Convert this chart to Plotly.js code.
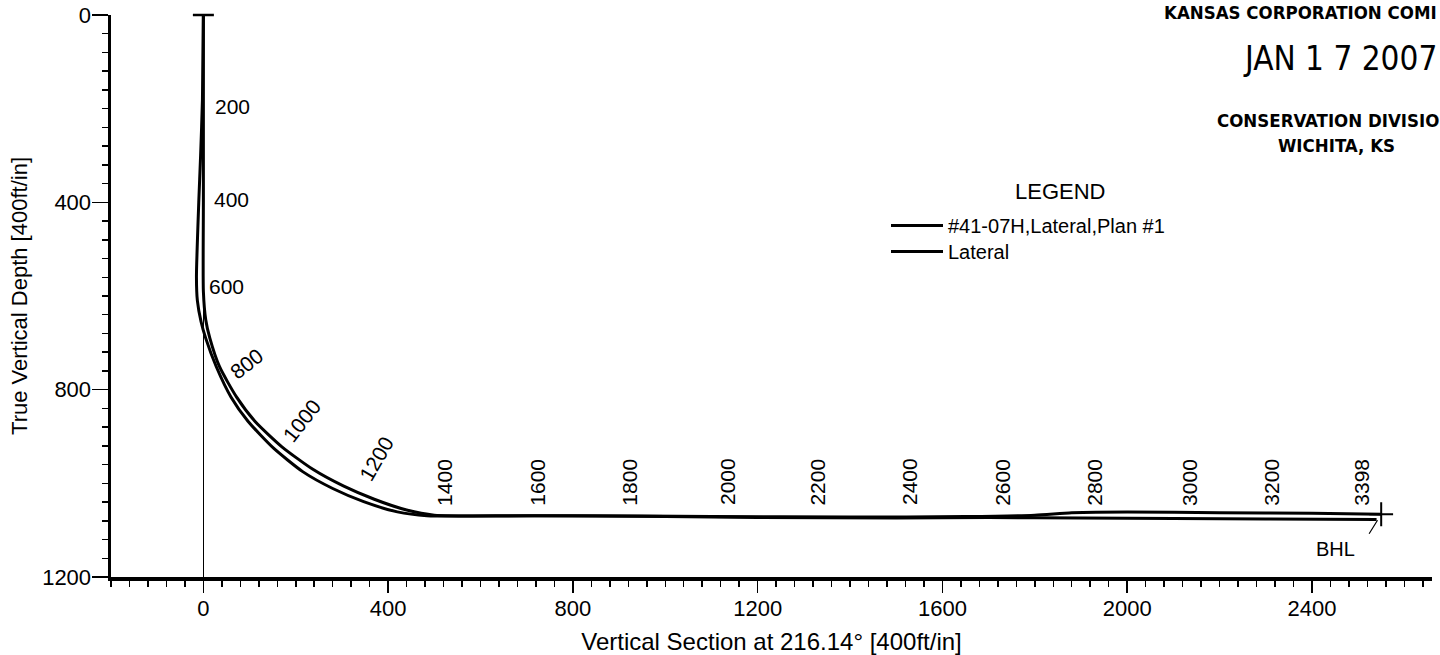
<!DOCTYPE html>
<html>
<head>
<meta charset="utf-8">
<script src="https://cdn.plot.ly/plotly-3.0.1.min.js"></script>
<style>html,body{margin:0;padding:0;background:#fff;}#chart{width:1440px;height:655px;}</style>
</head>
<body>
<div id="chart"></div>
<script>
// ---- data (VS = vertical section ft, TVD = true vertical depth ft)
const planName = '#41-07H,Lateral,Plan #1';
const planVS  = [0, 0, 0, 0, 5, 14, 35, 72, 112, 170, 237, 304, 370, 440, 500, 800, 1100, 1400, 1650, 1800, 1880, 2000, 2200, 2400, 2550];
const planTVD = [0, 200, 400, 590, 650, 690, 751, 816, 868, 922, 970, 1006, 1034, 1057, 1068, 1069, 1071, 1072, 1071, 1068, 1063, 1061, 1063, 1064, 1066];

const lateralName = 'Lateral';
const lateralVS  = [0, -2, -6, -10, -15, -13, -5, 5, 28, 60, 97, 152, 215, 280, 347, 420, 484, 700, 1000, 1200, 1500, 1700, 1900, 2100, 2300, 2540];
const lateralTVD = [0, 180, 300, 400, 560, 610, 655, 690, 751, 816, 868, 925, 975, 1011, 1039, 1061, 1069, 1069, 1071, 1073, 1074, 1073, 1074, 1075, 1076, 1077];

// measured-depth labels along the well path
const mdText  = ['200','400','600','800','1000','1200','1400','1600','1800','2000','2200','2400','2600','2800','3000','3200','3398'];
const mdVS    = [64, 61, 51, 94, 213, 375, 523, 724, 923, 1136, 1330, 1530, 1731, 1930, 2136, 2313, 2508];
const mdTVD   = [196, 395, 580, 744, 865, 947, 997, 997, 997, 997, 997, 997, 997, 997, 997, 997, 997];
const mdAngle = [0, 0, 0, -38, -52, -60, -90, -90, -90, -90, -90, -90, -90, -90, -90, -90, -90];

// axis tick settings
const xTickStep = 400, yTickStep = 400, minorStep = 40;
const xTitle = 'Vertical Section at 216.14\u00B0 [400ft/in]';
const yTitle = 'True Vertical Depth [400ft/in]';

// ---- chart
const F = 'Liberation Sans, Arial, Helvetica, sans-serif';
const NARROW = '"Liberation Sans Narrow", "Arial Narrow", "DejaVu Sans Condensed", "Liberation Sans", Arial, sans-serif';

const traces = [
  {type:'scatter', mode:'lines', x:planVS, y:planTVD, name:planName,
   line:{color:'#000', width:3, shape:'spline', smoothing:0.6}, legend:'legend'},
  {type:'scatter', mode:'lines', x:lateralVS, y:lateralTVD, name:lateralName,
   line:{color:'#000', width:3, shape:'spline', smoothing:0.6}, legend:'legend2'},
  {type:'scatter', mode:'markers', x:[planVS[0]], y:[planTVD[0]], showlegend:false, cliponaxis:false,
   marker:{symbol:'line-ew', size:15, color:'#000', line:{width:2.5, color:'#000'}}, hoverinfo:'skip'},
  {type:'scatter', mode:'markers', x:[planVS[planVS.length-1]], y:[planTVD[planTVD.length-1]], showlegend:false, cliponaxis:false,
   marker:{symbol:'cross-thin', size:17, color:'#000', line:{width:2, color:'#000'}}, hoverinfo:'skip'}
];

// pixel -> paper helpers for the stamp and legend (plot area 111..1432 x 15..577)
const L = 111, R = 8, T = 15, B = 78, W = 1440, H = 655;
const pw = W - L - R, ph = H - T - B;
const px = v => (v - L) / pw;
const py = v => 1 - (v - T) / ph;

const annotations = mdText.map((t, i) => ({
  x: mdVS[i], y: mdTVD[i], xref:'x', yref:'y', text:t, showarrow:false,
  textangle: mdAngle[i], xanchor:'center', yanchor:'middle',
  font:{family:F, size:21, color:'#000'}
}));

const endX = planVS[planVS.length-1], endY = planTVD[planTVD.length-1];
annotations.push({x:endX, y:endY, xref:'x', yref:'y', text:'', showarrow:true, arrowhead:0,
  arrowwidth:1.2, arrowcolor:'#000', ax:-13, ay:21, standoff:7});
annotations.push({x:endX, y:endY, xref:'x', yref:'y', text:'BHL', showarrow:false,
  xshift:-46, yshift:-35, font:{family:F, size:20, color:'#000'}});

// legend heading
annotations.push({x:px(1060), y:py(192), xref:'paper', yref:'paper', xanchor:'center', yanchor:'middle',
  text:'LEGEND', showarrow:false, font:{family:F, size:22, color:'#000'}});

// received stamp (as far as it is visible in the scan)
annotations.push({x:px(1162), y:py(12), xref:'paper', yref:'paper', xanchor:'left', yanchor:'middle',
  text:'<b>KANSAS CORPORATION COMI</b>', showarrow:false, font:{family:NARROW, size:18.5, color:'#000'}});
annotations.push({x:px(1340), y:py(58), xref:'paper', yref:'paper', xanchor:'center', yanchor:'middle',
  text:'JAN 1 7 2007', showarrow:false, font:{family:NARROW, size:33, color:'#000'}});
annotations.push({x:px(1215), y:py(120), xref:'paper', yref:'paper', xanchor:'left', yanchor:'middle',
  text:'<b>CONSERVATION DIVISIO</b>', showarrow:false, font:{family:NARROW, size:18.5, color:'#000'}});
annotations.push({x:px(1336), y:py(146), xref:'paper', yref:'paper', xanchor:'center', yanchor:'middle',
  text:'<b>WICHITA, KS</b>', showarrow:false, font:{family:NARROW, size:18.5, color:'#000'}});

const axisCommon = {
  ticks:'outside', tickwidth:1.5, tickcolor:'#000',
  showline:true, linewidth:3.5, linecolor:'#000', showgrid:false,
  tickfont:{family:F, size:22, color:'#000'}, fixedrange:true, automargin:false
};

const layout = {
  width:W, height:H,
  margin:{l:L, r:R, t:T, b:B, pad:0},
  paper_bgcolor:'#fff', plot_bgcolor:'#fff',
  font:{family:F, size:22, color:'#000'},
  showlegend:true,
  xaxis: Object.assign({}, axisCommon, {
    range:[-200, 2660], tick0:0, dtick:xTickStep, ticklen:12, ticklabelstandoff:-3,
    zeroline:true, zerolinewidth:1, zerolinecolor:'#000',
    minor:{tick0:0, dtick:minorStep, ticks:'outside', ticklen:6, tickwidth:1.5, tickcolor:'#000', showgrid:false},
    title:{text:xTitle, standoff:16, font:{family:F, size:24, color:'#000'}}
  }),
  yaxis: Object.assign({}, axisCommon, {
    range:[1200, 0], tick0:0, dtick:yTickStep, ticklen:16, ticklabelstandoff:-4,
    zeroline:false,
    minor:{tick0:0, dtick:minorStep, ticks:'outside', ticklen:6, tickwidth:1.5, tickcolor:'#000', showgrid:false},
    title:{text:yTitle, standoff:9, font:{family:F, size:22, color:'#000'}}
  }),
  legend:{x:px(886), y:py(206), xanchor:'left', yanchor:'top', bgcolor:'rgba(0,0,0,0)', borderwidth:0,
    itemwidth:52, font:{family:F, size:20, color:'#000'}},
  legend2:{x:px(886), y:py(232), xanchor:'left', yanchor:'top', bgcolor:'rgba(0,0,0,0)', borderwidth:0,
    itemwidth:52, font:{family:F, size:20, color:'#000'}},
  annotations: annotations
};

Plotly.newPlot('chart', traces, layout, {staticPlot:true, displayModeBar:false});
</script>
</body>
</html>
